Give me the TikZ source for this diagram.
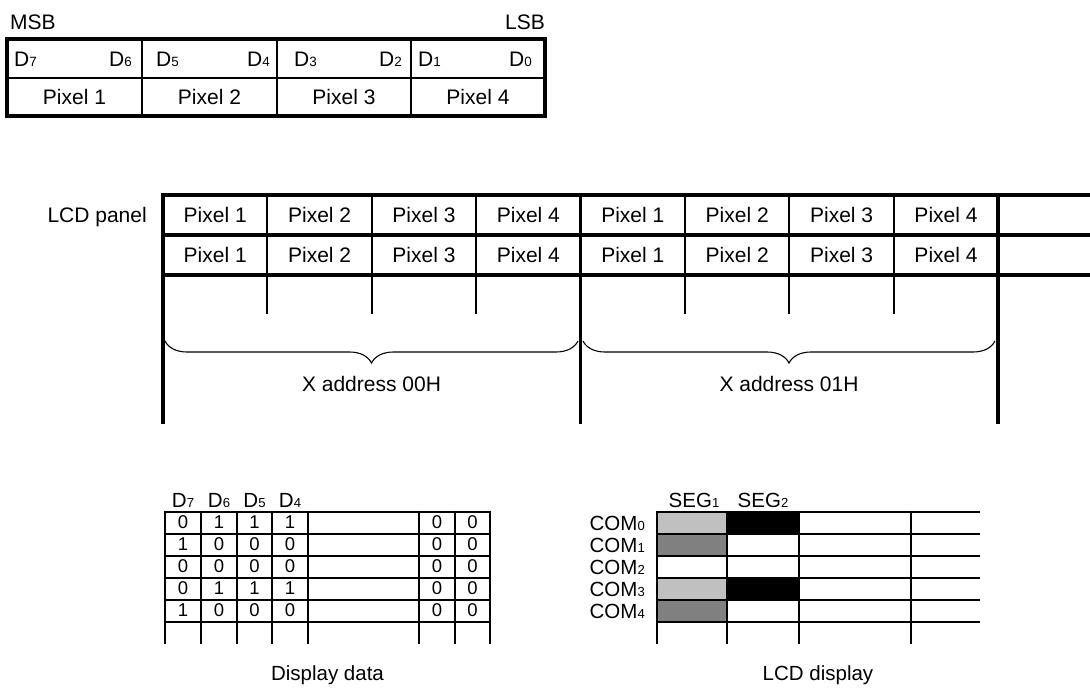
\documentclass[tikz,border=0pt]{standalone}
\usepackage{fontspec}
\setmainfont{Liberation Sans}
\usetikzlibrary{decorations.pathreplacing}
\definecolor{lightcell}{HTML}{C0C0C0}
\definecolor{darkcell}{HTML}{808080}
\newcommand{\lo}[1]{\raisebox{-0.5pt}{\scalebox{0.64}{#1}}}

\begin{document}
\begin{tikzpicture}[x=1pt,y=-1pt,
        heavyln/.style={line width=3.6pt},
        thinln/.style={line width=2pt},
        gridln/.style={line width=2.5pt},
        bigtxt/.style={font=\fontsize{21}{24}\selectfont},
        midtxt/.style={font=\fontsize{20.5}{23}\selectfont},
        smalltxt/.style={font=\fontsize{18.5}{21}\selectfont},
        addrbrace/.style={decorate,decoration={brace,mirror,amplitude=22pt},line width=1.1pt}]
        \useasboundingbox (0,0) rectangle (1090,688);
        \tikzstyle{every node}+=[inner sep=0pt]
        % byte format
        \node [bigtxt,anchor=base west] (msb) at (10,29) {MSB};
        \node [bigtxt,anchor=base east] (lsb) at (545,29) {LSB};
        \draw [line width=4pt] (7,39) rectangle (545,116);
        \draw [thinln] (7,78) -- (545,78);
        \draw [thinln] (142,39) -- (142,116);
        \draw [thinln] (277,39) -- (277,116);
        \draw [thinln] (411,39) -- (411,116);
        \node [bigtxt,anchor=base west] (d7) at (14,66) {D\lo{7}};
        \node [bigtxt,anchor=base east] (d6) at (132,66) {D\lo{6}};
        \node [bigtxt,anchor=base west] (d5) at (156,66) {D\lo{5}};
        \node [bigtxt,anchor=base east] (d4) at (270,66) {D\lo{4}};
        \node [bigtxt,anchor=base west] (d3) at (294,66) {D\lo{3}};
        \node [bigtxt,anchor=base east] (d2) at (402,66) {D\lo{2}};
        \node [bigtxt,anchor=base west] (d1) at (418,66) {D\lo{1}};
        \node [bigtxt,anchor=base east] (d0) at (532,66) {D\lo{0}};
        \node [bigtxt,anchor=base] (px1) at (74.5,104) {Pixel 1};
        \node [bigtxt,anchor=base] (px2) at (209.5,104) {Pixel 2};
        \node [bigtxt,anchor=base] (px3) at (344,104) {Pixel 3};
        \node [bigtxt,anchor=base] (px4) at (478,104) {Pixel 4};
        % LCD panel
        \node [bigtxt,anchor=base east] (panel) at (147,222) {LCD panel};
        \draw [heavyln] (161.2,195) -- (1090,195);
        \draw [heavyln] (161.2,235) -- (1090,235);
        \draw [heavyln] (161.2,275) -- (1090,275);
        \foreach \x in {267.4,371.8,476.2,685,789.4,893.8}
            \draw [thinln] (\x,195) -- (\x,314);
        \foreach \x in {163,580.6,998}
            \draw [heavyln] (\x,193.2) -- (\x,424);
        \foreach \n [count=\k from 0] in {1,2,3,4,1,2,3,4} {
            \node [bigtxt,anchor=base] (pa\k) at (215.2+104.4*\k,222) {Pixel \n};
            \node [bigtxt,anchor=base] (pb\k) at (215.2+104.4*\k,262) {Pixel \n};
        }
        \draw [addrbrace] (165,341) -- (578,341);
        \draw [addrbrace] (583,341) -- (995,341);
        \node [bigtxt,anchor=base] (xa0) at (371.5,391) {X address 00H};
        \node [bigtxt,anchor=base] (xa1) at (789,391) {X address 01H};
        % display data
        \node [midtxt,anchor=base] (h7) at (183,507) {D\lo{7}};
        \node [midtxt,anchor=base] (h6) at (219,507) {D\lo{6}};
        \node [midtxt,anchor=base] (h5) at (254.5,507) {D\lo{5}};
        \node [midtxt,anchor=base] (h4) at (290,507) {D\lo{4}};
        \foreach \y in {512,534,556,578,600,622}
            \draw [gridln] (163.8,\y) -- (491.2,\y);
        \foreach \x in {165,201,237,272,308,419,455,490}
            \draw [gridln] (\x,510.8) -- (\x,644);
        \foreach \a/\b/\c/\d [count=\i] in {0/1/1/1,1/0/0/0,0/0/0/0,0/1/1/1,1/0/0/0} {
            \node [smalltxt,anchor=base] (b\i a) at (183,506.5+22*\i) {\a};
            \node [smalltxt,anchor=base] (b\i b) at (219,506.5+22*\i) {\b};
            \node [smalltxt,anchor=base] (b\i c) at (254.5,506.5+22*\i) {\c};
            \node [smalltxt,anchor=base] (b\i d) at (290,506.5+22*\i) {\d};
            \node [smalltxt,anchor=base] (b\i e) at (437,506.5+22*\i) {0};
            \node [smalltxt,anchor=base] (b\i f) at (472.5,506.5+22*\i) {0};
        }
        \node [midtxt,anchor=base] (ddata) at (327.5,680) {Display data};
        % LCD display
        \fill [lightcell] (657,512) rectangle (727,534);
        \fill [darkcell] (657,534) rectangle (727,556);
        \fill [lightcell] (657,578) rectangle (727,600);
        \fill [darkcell] (657,600) rectangle (727,622);
        \fill [black] (727,512) rectangle (799,534);
        \fill [black] (727,578) rectangle (799,600);
        \foreach \y in {512,534,556,578,600,622}
            \draw [gridln] (655.8,\y) -- (980,\y);
        \foreach \x in {657,727,799,911}
            \draw [gridln] (\x,510.8) -- (\x,644);
        \node [midtxt,anchor=base] (seg1) at (694,507) {SEG\lo{1}};
        \node [midtxt,anchor=base] (seg2) at (763,507) {SEG\lo{2}};
        \foreach \c [count=\i from 0] in {0,1,2,3,4}
            \node [midtxt,anchor=base east] (com\c) at (645,530+22*\i) {COM\lo{\c}};
        \node [midtxt,anchor=base] (ldisp) at (818,680) {LCD display};
\end{tikzpicture}
\end{document}
